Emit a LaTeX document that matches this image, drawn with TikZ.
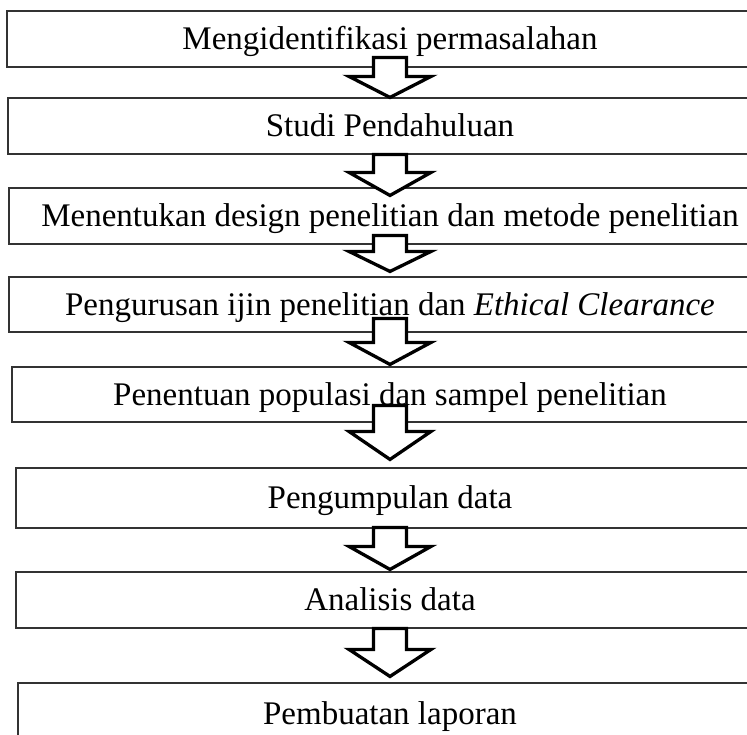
\documentclass[tikz,border=0pt]{standalone}
\usepackage{fontspec}
\setmainfont{Liberation Serif}
\usetikzlibrary{calc}
\begin{document}
\begin{tikzpicture}[x=1pt,y=1pt,
  stepbox/.style={draw=black!80,line width=1.1pt,inner sep=0pt,text height=26pt,text depth=4pt,
    font=\fontsize{33}{38}\selectfont},
  blockarrow/.style={draw=black,line width=3.3pt,fill=white,line join=miter}]
  \useasboundingbox (0,0) rectangle (747,735);
  \node[stepbox,minimum width=766pt,minimum height=56pt] (b1) at (390,696) {Mengidentifikasi permasalahan};
  \node[stepbox,minimum width=764pt,minimum height=56pt] (b2) at (390,609) {Studi Pendahuluan};
  \node[stepbox,minimum width=762pt,minimum height=56pt] (b3) at (390,519) {Menentukan design penelitian dan metode penelitian};
  \node[stepbox,minimum width=762pt,minimum height=55pt] (b4) at (390,430.5) {Pengurusan ijin penelitian dan \textit{Ethical Clearance}};
  \node[stepbox,minimum width=756pt,minimum height=55pt] (b5) at (390,340.5) {Penentuan populasi dan sampel penelitian};
  \node[stepbox,minimum width=748pt,minimum height=60pt] (b6) at (390,237) {Pengumpulan data};
  \node[stepbox,minimum width=748pt,minimum height=56pt] (b7) at (390,135) {Analisis data};
  \node[stepbox,minimum width=744pt,minimum height=62pt] (b8) at (390,21) {Pembuatan laporan};
  \foreach \a/\b/\s/\t/\h in {b1/b2/10/0/21, b2/b3/0/-8/23, b3/b4/9/5/20, b4/b5/14/2/22,
                             b5/b6/17/8/28, b6/b7/1/2/23, b7/b8/0/6/27}{
    \path ($(\a.south)+(0,\s)$) coordinate (top) ($(\b.north)+(0,\t)$) coordinate (tip);
    \draw[blockarrow] ($(top)+(-16.5,0)$) -- ($(top)+(16.5,0)$) -- ($(tip)+(16.5,\h)$)
      -- ($(tip)+(41,\h)$) -- (tip) -- ($(tip)+(-41,\h)$) -- ($(tip)+(-16.5,\h)$) -- cycle;
  }
\end{tikzpicture}
\end{document}
